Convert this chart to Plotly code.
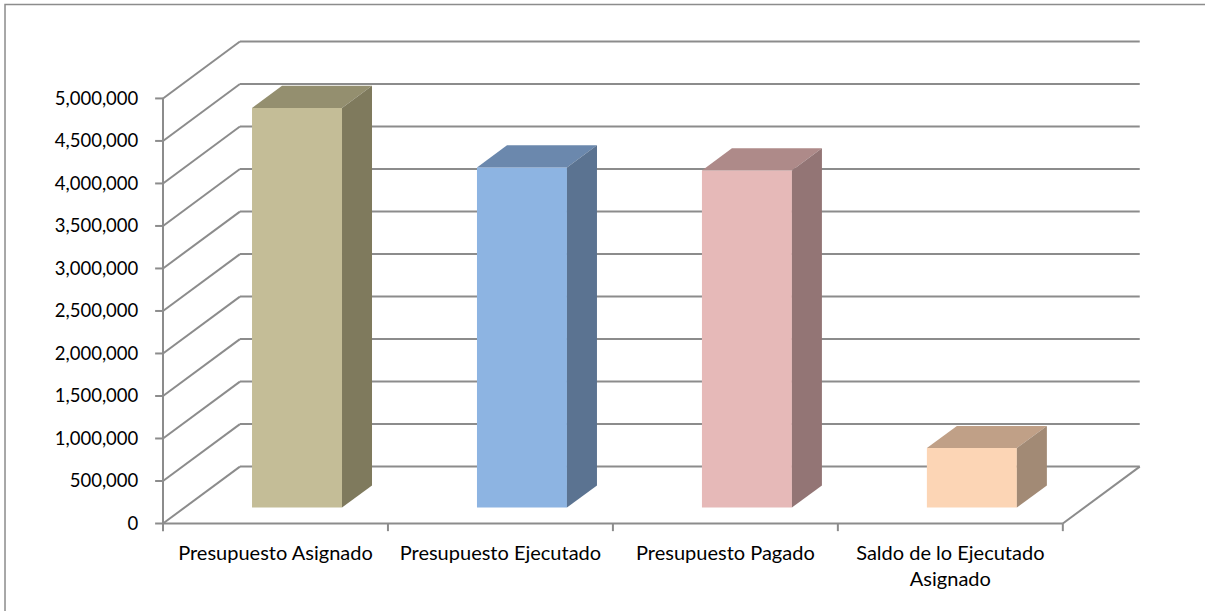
import plotly.graph_objects as go

# datos
categorias = ["Presupuesto Asignado", "Presupuesto Ejecutado", "Presupuesto Pagado",
              "Saldo de lo Ejecutado<br>Asignado"]
valores = [4700000, 4000000, 3965000, 700000]
y_ticks = [0, 500000, 1000000, 1500000, 2000000, 2500000,
           3000000, 3500000, 4000000, 4500000, 5000000]

color_frente = ["#C4BD97", "#8DB4E2", "#E6B9B8", "#FCD5B5"]
color_arriba = ["#948F6F", "#6B88AD", "#AE8A89", "#C0A087"]
color_lado = ["#7F7A5D", "#5B7391", "#937575", "#A28A75"]

# perspectiva falsa (estilo Excel 3D)
DX = 0.342        # profundidad en unidades de categoria
DY = 669000       # profundidad en unidades de valor
F0, F1 = 0.28, 0.67
ANCHO = 0.4
n = len(categorias)
gris = "#8C8C8C"

fig = go.Figure()

# caras frontales
xc = [i + 0.5 + F0 * DX for i in range(n)]
fig.add_trace(go.Bar(
    x=xc, y=valores, base=F0 * DY, width=ANCHO,
    marker=dict(color=color_frente, line=dict(width=0)),
    hoverinfo="skip", showlegend=False))

d = (F1 - F0) * DX
dd = (F1 - F0) * DY
b = F0 * DY
for i in range(n):
    xl = xc[i] - ANCHO / 2
    xr = xc[i] + ANCHO / 2
    v = valores[i]
    # cara superior
    fig.add_trace(go.Scatter(
        x=[xl, xr, xr + d, xl + d, xl],
        y=[b + v, b + v, b + v + dd, b + v + dd, b + v],
        fill="toself", fillcolor=color_arriba[i], mode="lines",
        line=dict(width=0, color=color_arriba[i]),
        hoverinfo="skip", showlegend=False))
    # cara lateral
    fig.add_trace(go.Scatter(
        x=[xr, xr, xr + d, xr + d, xr],
        y=[b, b + v, b + v + dd, b + dd, b],
        fill="toself", fillcolor=color_lado[i], mode="lines",
        line=dict(width=0, color=color_lado[i]),
        hoverinfo="skip", showlegend=False))

# lineas de cuadricula (pared izquierda y fondo)
shapes = []
def linea(x0, y0, x1, y1):
    shapes.append(dict(type="line", xref="x", yref="y", x0=x0, y0=y0, x1=x1, y1=y1,
                       line=dict(color=gris, width=2), layer="below"))

for v in y_ticks:
    linea(0, v, DX, v + DY)
    linea(DX, v + DY, n + DX, v + DY)
    linea(-0.035, v, 0, v)
linea(0, 0, 0, y_ticks[-1])
linea(0, 0, n, 0)
linea(n, 0, n + DX, DY)
for i in range(n + 1):
    linea(i, 0, i, -90000)

# marco exterior (solo borde izquierdo y superior visibles)
shapes.append(dict(type="path", xref="paper", yref="paper",
                   path="M -0.1508,-0.3 L -0.1508,1.0699 L 1.3,1.0699",
                   line=dict(color=gris, width=1.5), layer="below"))

fig.update_layout(
    width=1205, height=611,
    margin=dict(l=154, r=62.8, t=38.5, b=78.5),
    paper_bgcolor="white", plot_bgcolor="white",
    font=dict(family="Lato", size=19, color="black"),
    shapes=shapes,
    showlegend=False,
    xaxis=dict(range=[-0.04, n + DX + 0.01], tickvals=[i + 0.5 for i in range(n)],
               ticktext=categorias, ticks="outside", ticklen=3,
               tickcolor="rgba(0,0,0,0)", tickfont=dict(size=20),
               showgrid=False, zeroline=False, showline=False, fixedrange=True),
    yaxis=dict(range=[-100000, y_ticks[-1] + DY + 30000], tickvals=y_ticks,
               tickformat=",", ticks="outside", ticklen=11,
               tickcolor="rgba(0,0,0,0)", tickfont=dict(size=18.5),
               showgrid=False, zeroline=False, showline=False, fixedrange=True),
)

fig.write_html("out.html", config={"displayModeBar": False},
               post_script="document.body.style.margin='0';")
